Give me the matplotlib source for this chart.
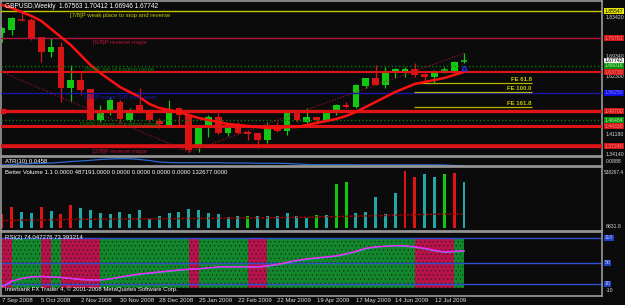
import matplotlib
matplotlib.use("Agg")
import matplotlib.pyplot as plt

plt.rcParams["font.family"] = ["Liberation Sans", "DejaVu Sans"]
plt.rcParams["hatch.linewidth"] = 0.3

W, H = 625, 305
FONDO = "#0b0b0b"
GRIS = "#9a9a9a"

# velas semanales GBPUSD (sep 2008 - jul 2009)
apertura = [1.7770, 1.7877, 1.8240, 1.8235, 1.7626, 1.7089, 1.7268, 1.5801, 1.6087, 1.5765,
            1.4655, 1.5013, 1.5299, 1.4655, 1.5192, 1.4941, 1.4619, 1.4476, 1.5085, 1.4834,
            1.3653, 1.4404, 1.4762, 1.4190, 1.4404, 1.4225, 1.4190, 1.3939, 1.4476, 1.4261,
            1.4906, 1.4583, 1.4762, 1.4655, 1.4977, 1.5192, 1.5120, 1.5872, 1.6159, 1.5908,
            1.6373, 1.6409, 1.6481, 1.6302, 1.6194, 1.6440, 1.6373, 1.67563]
maximo = [1.7984, 1.8342, 1.8486, 1.8307, 1.7630, 1.7591, 1.7447, 1.6624, 1.6373, 1.5780,
          1.5192, 1.5478, 1.5371, 1.5085, 1.5801, 1.5013, 1.4727, 1.5371, 1.5120, 1.4906,
          1.4476, 1.4834, 1.4906, 1.4420, 1.4583, 1.4297, 1.4200, 1.4583, 1.4583, 1.4920,
          1.4941, 1.5085, 1.4770, 1.4941, 1.5228, 1.5299, 1.5930, 1.6170, 1.6624, 1.6552,
          1.6517, 1.6552, 1.6695, 1.6338, 1.6445, 1.6552, 1.6750, 1.70412]
minimo = [1.7430, 1.7698, 1.8199, 1.7519, 1.6731, 1.6910, 1.5299, 1.5299, 1.5550, 1.4640,
          1.4583, 1.4834, 1.4583, 1.4583, 1.4900, 1.4583, 1.4369, 1.4404, 1.4476, 1.3509,
          1.3509, 1.4046, 1.4170, 1.4082, 1.4170, 1.3939, 1.3653, 1.3832, 1.4225, 1.4118,
          1.4583, 1.4548, 1.4512, 1.4619, 1.4834, 1.5085, 1.5100, 1.5801, 1.5890, 1.5801,
          1.6159, 1.6194, 1.6194, 1.6015, 1.5980, 1.6338, 1.6350, 1.66946]
cierre = [1.7949, 1.8307, 1.8230, 1.7591, 1.7089, 1.7268, 1.5801, 1.6087, 1.5729, 1.4655,
          1.4906, 1.5371, 1.4691, 1.4906, 1.5013, 1.4655, 1.4512, 1.4906, 1.4834, 1.3581,
          1.4404, 1.4762, 1.4190, 1.4404, 1.4190, 1.4154, 1.3939, 1.4369, 1.4261, 1.4906,
          1.4655, 1.4762, 1.4655, 1.4906, 1.5192, 1.5120, 1.5908, 1.6159, 1.5908, 1.6373,
          1.6481, 1.6481, 1.6266, 1.6194, 1.6338, 1.6450, 1.6731, 1.67742]
media = [1.8772, 1.8665, 1.8521, 1.8378, 1.8199, 1.7913, 1.7626, 1.7340, 1.6982, 1.6624,
         1.6338, 1.6087, 1.5836, 1.5657, 1.5478, 1.5228, 1.5085, 1.5013, 1.4941, 1.4834,
         1.4727, 1.4655, 1.4583, 1.4512, 1.4476, 1.4440, 1.4404, 1.4369, 1.4369, 1.4404,
         1.4404, 1.4476, 1.4548, 1.4619, 1.4691, 1.4798, 1.4941, 1.5120, 1.5299, 1.5478,
         1.5657, 1.5801, 1.5944, 1.6015, 1.6087, 1.6159, 1.6266, 1.6373]

# niveles de Murrey y otros
murrey_precio = [1.85547, 1.75781, 1.66016, 1.56250, 1.46484, 1.36719]
murrey_texto = ["[7/8]P weak place to stop and reverse", "[6/8]P reverse major",
                "[5/8]P top of trading range", "[4/8]P major S/R pivot point",
                "[3/8]P bottom of trading range", "[2/8]P reverse major"]
murrey_color = ["#c8c800", "#b4143c", "#0a7a0a", "#1818a8", "#0a7a0a", "#b4143c"]
murrey_estilo = ["-", "-", ":", "-", ":", "-"]
rojas_precio = [1.63730, 1.49700, 1.44330, 1.37240]
rojas_grosor = [1.5, 2.4, 2.2, 2.6]
fe_precio = [1.5970, 1.5652, 1.5120]
fe_texto = ["FE 61.8", "FE 100.0", "FE 161.8"]
zigzag_barra = [0, 19, 47]
zigzag_precio = [1.6373, 1.3509, 1.70412]
ejes_precio = ["1.83420", "1.69340", "1.62300", "1.41180", "1.34140"]
ejes_valor = [1.83420, 1.69340, 1.62300, 1.41180, 1.34140]

atr = [0.0500, 0.0530, 0.0560, 0.0589, 0.0601, 0.0619, 0.0661, 0.0709, 0.0739, 0.0780,
       0.0828, 0.0858, 0.0876, 0.0876, 0.0828, 0.0768, 0.0679, 0.0649, 0.0637, 0.0637,
       0.0637, 0.0637, 0.0637, 0.0619, 0.0619, 0.0619, 0.0601, 0.0601, 0.0601, 0.0589,
       0.0560, 0.0530, 0.0518, 0.0518, 0.0518, 0.0518, 0.0512, 0.0512, 0.0512, 0.0512,
       0.0512, 0.0512, 0.0512, 0.0512, 0.0512, 0.0500, 0.0470, 0.0458]

volumen = [132, 201, 154, 145, 198, 161, 132, 217, 189, 170,
           142, 132, 151, 132, 170, 85, 114, 142, 154, 180,
           170, 142, 132, 107, 114, 114, 114, 114, 114, 142,
           114, 95, 123, 123, 415, 434, 142, 151, 293, 132,
           331, 538, 482, 510, 482, 510, 519, 434]
volumen_tipo = "rrttrtrrtttttttttttttttttgttttttgtggtttttrrttgrt"
volumen_media = [70, 72, 74, 75, 77, 78, 80, 81, 82, 83,
                 84, 85, 86, 86, 87, 87, 88, 88, 89, 90,
                 90, 91, 92, 93, 94, 95, 96, 97, 98, 100,
                 101, 102, 104, 106, 108, 110, 112, 114, 116, 118,
                 121, 124, 126, 128, 130, 131, 132, 133]

rsi_a = [3, 14, 19, 22, 23, 22, 21, 19, 17, 16,
         16, 18, 22, 25, 28, 30, 32, 34, 36, 37,
         38, 40, 42, 42, 42, 42, 42, 44, 47, 51,
         55, 58, 60, 62, 64, 68, 73, 79, 82, 83,
         84, 84, 82, 79, 75, 72, 73, 74.05]
rsi_b = [2, 13, 19, 22, 23, 22, 21, 19, 17, 16,
         16, 18, 21, 24, 27, 29, 31, 33, 35, 37,
         38, 40, 41, 42, 42, 42, 42, 43, 46, 50,
         54, 57, 59, 61, 63, 67, 72, 78, 81, 83,
         84, 83, 81, 78, 74, 71, 72, 73.39]
rsi_zona = "rgggrgrrrrgggggggggrgggggrrgggggggggggggggrrrrg"
rsi_niveles = [100, 50, 8]
rsi_etiquetas = ["110", "50", "10"]

fechas = ["7 Sep 2008", "5 Oct 2008", "2 Nov 2008", "30 Nov 2008", "28 Dec 2008",
          "25 Jan 2009", "22 Feb 2009", "22 Mar 2009", "19 Apr 2009", "17 May 2009",
          "14 Jun 2009", "12 Jul 2009"]
fechas_barra = [0, 4, 8, 12, 16, 20, 24, 28, 32, 36, 40, 44]

PASO = 9.83  # pixeles por barra
X0 = 2
FS = 4.3   # letra de los textos
FE = 3.7   # letra de la escala derecha
fig = plt.figure(figsize=(W / 100, H / 100), dpi=100, facecolor=FONDO)


def bx(i):
    return (X0 + i * PASO) / W


def panel(y0, y1):
    ax = fig.add_axes([1 / W, 1 - y1 / H, 601 / W, (y1 - y0) / H])
    ax.set_facecolor(FONDO)
    for s in ax.spines.values():
        s.set_color(GRIS)
        s.set_linewidth(1.2)
    ax.set_xticks([])
    ax.set_yticks([])
    ax.set_xlim(-0.10, 61.04)
    return ax


def etiqueta(y_px, texto, fondo, color="black"):
    fig.text(605 / W, 1 - y_px / H, texto, fontsize=FE, color=color, va="center", ha="left",
             bbox=dict(boxstyle="square,pad=0.1", fc=fondo, ec="none"))


def escala(y_px, texto, x_px=605.5):
    fig.text(x_px / W, 1 - y_px / H, texto, fontsize=FE, color="#d8d8d8", va="center", ha="left")


# 1. Grafico principal
ax = panel(1, 155.5)
ylo, yhi = 1.3384, 1.8915
ax.set_ylim(ylo, yhi)


def ypx(p):
    return 1 + (yhi - p) / (yhi - ylo) * 154.5


n = len(cierre)
for i in range(n):
    sube = cierre[i] >= apertura[i]
    col = "#12c812" if sube else "#d81414"
    ax.vlines(i, minimo[i], maximo[i], color=col, lw=0.9, zorder=2)
    alto = abs(cierre[i] - apertura[i])
    if alto < 0.002:
        ax.hlines((apertura[i] + cierre[i]) / 2, i - 0.34, i + 0.34, color=col, lw=1.1, zorder=2)
    else:
        ax.bar(i, alto, bottom=min(apertura[i], cierre[i]), width=0.68, color=col, lw=0, zorder=2)

for p, c, e in zip(murrey_precio, murrey_color, murrey_estilo):
    ax.axhline(p, color=c, lw=1.0, ls=e, zorder=3)
for p, g in zip(rojas_precio, rojas_grosor):
    ax.axhline(p, color="#e01414", lw=g, zorder=3)

for p, t, c in zip(murrey_precio, murrey_texto, murrey_color):
    ax.text(12.0, p - 0.006, t, color=c, fontsize=FS, ha="center", va="top", zorder=4)

for p, t in zip(fe_precio, fe_texto):
    ax.hlines(p, 41.9, 53.9, color="#b4b400", lw=0.9, zorder=3)
    ax.text(53.9, p + 0.004, t, color="#c8c800", fontsize=FS, ha="right", va="bottom",
            fontweight="bold", zorder=4)

ax.plot(zigzag_barra, zigzag_precio, color="#b0102a", lw=0.8, ls=(0, (1, 1.6)), zorder=3)
ax.plot(range(n), media, color="#ff1010", lw=1.8, zorder=3)
ax.plot([47], [1.652], marker="^", color="#2030ff", ms=3.5, mfc="none", mew=0.9, zorder=4)
ax.plot([0.15], [rojas_precio[1]], marker="s", color="#e01414", ms=3, zorder=4)

ax.text(0.006, 0.985, "GBPUSD,Weekly  1.67563 1.70412 1.66946 1.67742", transform=ax.transAxes,
        color="white", fontsize=4.7, ha="left", va="top", zorder=5)

for t, v in zip(ejes_precio, ejes_valor):
    escala(ypx(v), t)
etiqueta(ypx(murrey_precio[0]), "1.85547", "#e6e600")
etiqueta(ypx(murrey_precio[1]), "1.75781", "#d01818", "#ff8080")
etiqueta(ypx(cierre[-1]), "1.67742", "#f0f0f0")
etiqueta(ypx(murrey_precio[2]), "1.66016", "#0e8a0e", "#a0ffa0")
etiqueta(ypx(rojas_precio[0]), "1.63730", "#d01818", "#ff8080")
etiqueta(ypx(murrey_precio[3]), "1.56250", "#1010e0", "#8080ff")
etiqueta(ypx(rojas_precio[1]), "1.49700", "#d01818", "#ff8080")
etiqueta(ypx(murrey_precio[4]), "1.46484", "#0e8a0e", "#a0ffa0")
etiqueta(ypx(rojas_precio[2]), "1.44330", "#d01818", "#ff8080")
etiqueta(ypx(rojas_precio[3]), "1.37240", "#d01818", "#ff8080")

# 2. ATR
ax2 = panel(156.5, 166)
ax2.set_ylim(0.0440, 0.1007)
ax2.plot(range(n), atr, color="#2a6ad0", lw=0.9)
ax2.text(0.006, 0.5, "ATR(10) 0.0458", transform=ax2.transAxes, color="white", fontsize=FS,
         va="center")
escala(161.5, "0.0888")

# 3. Better Volume
ax3 = panel(167, 230.5)
ax3.set_ylim(-23.4, 576)
colores_vol = {"r": "#e01414", "t": "#20a8a8", "g": "#10c810"}
ax3.bar(range(n), volumen, width=0.3, color=[colores_vol[c] for c in volumen_tipo], lw=0)
ax3.plot(range(n), volumen_media, color="#a00000", lw=1.1, ls=(0, (1.5, 1)))
ax3.text(0.006, 0.96, "Better Volume 1.1 0.0000 487191.0000 0.0000 0.0000 0.0000 0.0000 132677.0000",
         transform=ax3.transAxes, color="white", fontsize=FS, va="top")
fig.text(604 / W, 1 - 172 / H, "538267.4", fontsize=3.4, color="#d8d8d8", va="center")
escala(227, "6831.8")

# 4. RSI con zonas de color
ax4 = panel(231.5, 295.5)
ax4.set_ylim(-14.9, 112.3)
colores_rsi = {"r": "#b8124a", "g": "#12882c"}
ax4.bar([i + 0.5 for i in range(len(rsi_zona))], [100] * len(rsi_zona), width=1.0,
        color=[colores_rsi[c] for c in rsi_zona], lw=0, edgecolor="#1a1a1a", hatch="....")
for nv in rsi_niveles:
    ax4.axhline(nv, color="#3050d0", lw=1.0)
ax4.plot(range(n), rsi_b, color="#20b8b8", lw=1.0)
ax4.plot(range(n), rsi_a, color="#ff20ff", lw=1.0)
ax4.text(0.006, 0.9, "RSI(2) 74.047276 73.393214", transform=ax4.transAxes, color="white",
         fontsize=FS, va="center")
ax4.text(0.006, 0.1, "Interbank FX Trader 4, \u00a9 2001-2008 MetaQuotes Software Corp.",
         transform=ax4.transAxes, color="white", fontsize=FS, va="center")
for nv, t in zip(rsi_niveles, rsi_etiquetas):
    y_px = 231.5 + (112.3 - nv) / (112.3 + 14.9) * 64
    etiqueta(y_px, t, "#2040c0", "#c0c8ff")
escala(291, "-10")

# 5. Fechas
for t, b in zip(fechas, fechas_barra):
    fig.text(bx(b), 1 - 300.5 / H, t, fontsize=FS, color="#e0e0e0", va="center", ha="left")

fig.savefig("out.png", dpi=100, facecolor=FONDO)
